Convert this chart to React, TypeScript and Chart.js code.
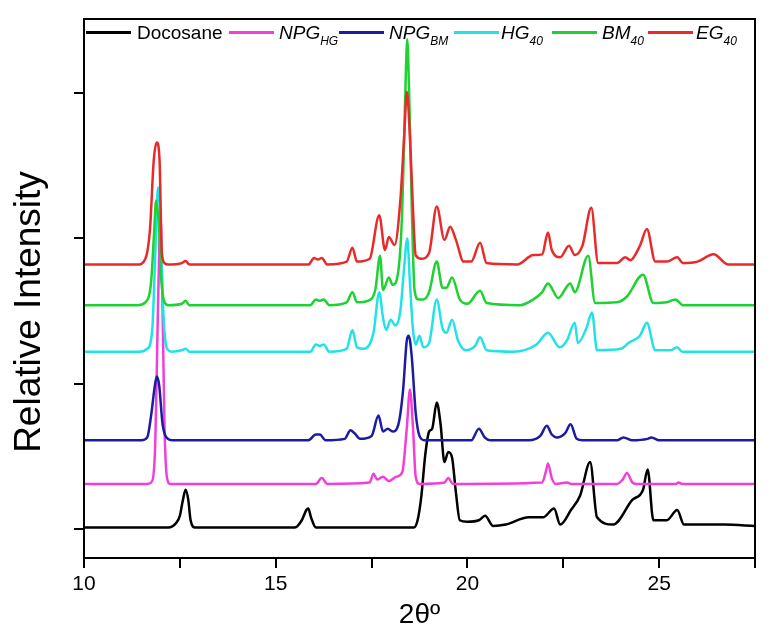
import React, { useEffect, useRef } from 'react';
import { Chart, registerables } from 'chart.js';

Chart.register(...registerables);

// ---------- data (2θ in degrees, relative intensity with vertical offsets) ----------
const seriesNames = ['Docosane', 'NPG_HG', 'NPG_BM', 'HG40', 'BM40', 'EG40'];

const docosaneX = [10.0, 12.2, 12.4, 12.5, 12.58, 12.65, 12.72, 12.78, 12.9, 15.5, 15.68, 15.8, 15.85, 15.92, 16.05, 18.6, 18.7, 18.8, 18.9, 19.0, 19.08, 19.2, 19.3, 19.4, 19.5, 19.6, 19.7, 19.8, 20.0, 20.3, 20.46, 20.67, 21.0, 21.6, 21.97, 22.26, 22.42, 22.7, 22.94, 23.2, 23.38, 23.8, 24.3, 24.58, 24.7, 24.85, 25.2, 25.47, 25.65, 26.7, 27.5];
const docosaneY = [0.01, 0.01, 0.04, 0.09, 0.2, 0.27, 0.2, 0.06, 0.01, 0.01, 0.06, 0.13, 0.14, 0.08, 0.01, 0.01, 0.06, 0.23, 0.51, 0.67, 0.69, 0.87, 0.72, 0.46, 0.53, 0.49, 0.25, 0.06, 0.05, 0.06, 0.09, 0.02, 0.03, 0.08, 0.08, 0.14, 0.03, 0.13, 0.23, 0.46, 0.08, 0.03, 0.2, 0.27, 0.41, 0.06, 0.06, 0.13, 0.03, 0.03, 0.02];

const npgHgX = [10.0, 11.65, 11.78, 11.86, 11.92, 11.97, 12.0, 12.05, 12.1, 12.16, 12.25, 16.05, 16.2, 16.35, 17.45, 17.55, 17.65, 17.8, 17.95, 18.15, 18.3, 18.42, 18.5, 18.58, 18.65, 18.75, 19.4, 19.5, 19.62, 21.95, 22.05, 22.1, 22.2, 22.3, 22.6, 22.7, 23.9, 24.05, 24.16, 24.3, 24.4, 25.45, 25.5, 25.6, 27.5];
const npgHgY = [0.31, 0.31, 0.33, 0.6, 1.4, 2.0, 2.12, 1.5, 0.7, 0.36, 0.31, 0.31, 0.35, 0.31, 0.32, 0.38, 0.34, 0.36, 0.33, 0.36, 0.39, 0.7, 0.96, 0.7, 0.36, 0.31, 0.32, 0.35, 0.31, 0.32, 0.4, 0.45, 0.35, 0.31, 0.32, 0.31, 0.31, 0.34, 0.385, 0.32, 0.31, 0.31, 0.32, 0.31, 0.31];

const npgBmX = [10.0, 11.5, 11.65, 11.75, 11.85, 11.9, 11.96, 12.05, 12.15, 12.3, 15.85, 16.05, 16.15, 16.3, 16.8, 16.95, 17.05, 17.2, 17.5, 17.68, 17.8, 17.92, 18.05, 18.2, 18.32, 18.42, 18.47, 18.55, 18.65, 18.75, 18.9, 20.1, 20.3, 20.45, 20.6, 21.6, 21.9, 22.07, 22.2, 22.33, 22.55, 22.69, 22.85, 23.0, 23.9, 24.07, 24.3, 24.7, 24.8, 25.0, 27.5];
const npgBmY = [0.61, 0.61, 0.63, 0.78, 0.99, 1.05, 0.99, 0.72, 0.63, 0.61, 0.61, 0.65, 0.65, 0.61, 0.62, 0.68, 0.66, 0.62, 0.64, 0.78, 0.67, 0.69, 0.67, 0.72, 0.95, 1.3, 1.33, 1.18, 0.8, 0.64, 0.61, 0.61, 0.69, 0.63, 0.61, 0.61, 0.64, 0.71, 0.65, 0.63, 0.66, 0.72, 0.62, 0.61, 0.61, 0.63, 0.61, 0.62, 0.63, 0.61, 0.61];

const hg40X = [10.0, 11.45, 11.65, 11.78, 11.86, 11.93, 11.98, 12.05, 12.12, 12.2, 12.3, 12.55, 12.65, 12.75, 15.9, 16.05, 16.15, 16.25, 16.4, 16.85, 17.0, 17.12, 17.3, 17.55, 17.7, 17.8, 17.88, 18.0, 18.12, 18.25, 18.35, 18.43, 18.5, 18.58, 18.65, 18.75, 18.85, 19.0, 19.2, 19.35, 19.45, 19.6, 19.75, 19.95, 20.2, 20.33, 20.5, 21.2, 21.8, 22.1, 22.41, 22.6, 22.8, 22.88, 23.1, 23.25, 23.38, 24.0, 24.07, 24.2, 24.5, 24.68, 24.9, 25.3, 25.47, 25.6, 27.5];
const hg40Y = [1.22, 1.22, 1.24, 1.37, 1.9, 2.35, 2.2, 1.6, 1.3, 1.23, 1.22, 1.23, 1.24, 1.22, 1.22, 1.27, 1.26, 1.27, 1.22, 1.24, 1.37, 1.25, 1.24, 1.35, 1.63, 1.45, 1.37, 1.44, 1.4, 1.5, 1.8, 2.0, 1.7, 1.37, 1.27, 1.33, 1.25, 1.28, 1.58, 1.38, 1.35, 1.44, 1.3, 1.23, 1.26, 1.32, 1.23, 1.22, 1.27, 1.35, 1.25, 1.3, 1.42, 1.28, 1.38, 1.49, 1.23, 1.24, 1.25, 1.28, 1.33, 1.42, 1.23, 1.23, 1.25, 1.22, 1.22];

const bm40X = [10.0, 11.4, 11.6, 11.75, 11.83, 11.88, 11.95, 12.02, 12.1, 12.2, 12.55, 12.65, 12.75, 15.9, 16.05, 16.15, 16.25, 16.4, 16.85, 17.0, 17.12, 17.4, 17.6, 17.72, 17.8, 17.95, 18.05, 18.2, 18.3, 18.38, 18.43, 18.48, 18.55, 18.62, 18.72, 18.85, 19.0, 19.2, 19.35, 19.45, 19.6, 19.8, 20.0, 20.33, 20.5, 21.37, 21.72, 21.95, 22.1, 22.37, 22.68, 22.8, 23.15, 23.33, 23.9, 24.16, 24.58, 24.85, 25.2, 25.42, 25.63, 27.5];
const bm40Y = [1.54, 1.54, 1.56, 1.7, 2.05, 2.26, 2.1, 1.7, 1.56, 1.54, 1.55, 1.57, 1.54, 1.54, 1.58, 1.57, 1.58, 1.54, 1.56, 1.63, 1.56, 1.57, 1.65, 1.88, 1.645, 1.73, 1.68, 1.78, 2.2, 3.0, 3.37, 3.0, 2.2, 1.645, 1.58, 1.58, 1.63, 1.84, 1.66, 1.66, 1.73, 1.58, 1.55, 1.64, 1.555, 1.54, 1.58, 1.63, 1.69, 1.59, 1.69, 1.63, 1.88, 1.555, 1.56, 1.6, 1.75, 1.555, 1.56, 1.58, 1.54, 1.54];

const eg40X = [10.0, 11.4, 11.6, 11.72, 11.82, 11.9, 11.97, 12.03, 12.1, 12.2, 12.55, 12.65, 12.75, 15.85, 16.0, 16.1, 16.2, 16.35, 16.85, 17.0, 17.12, 17.45, 17.7, 17.85, 17.95, 18.1, 18.25, 18.35, 18.42, 18.5, 18.58, 18.65, 18.8, 19.0, 19.2, 19.4, 19.55, 19.7, 19.9, 20.1, 20.33, 20.5, 21.3, 21.72, 21.95, 22.1, 22.2, 22.42, 22.65, 22.8, 23.0, 23.23, 23.41, 23.9, 24.12, 24.25, 24.5, 24.68, 24.9, 25.2, 25.47, 25.62, 26.0, 26.42, 26.8, 27.5];
const eg40Y = [1.82, 1.82, 1.86, 2.06, 2.54, 2.66, 2.54, 1.9, 1.83, 1.82, 1.83, 1.845, 1.82, 1.82, 1.865, 1.855, 1.865, 1.82, 1.84, 1.935, 1.84, 1.86, 2.16, 1.92, 2.01, 1.955, 2.26, 2.7, 3.01, 2.7, 2.2, 1.885, 1.86, 1.9, 2.22, 1.99, 2.08, 1.99, 1.84, 1.84, 1.97, 1.83, 1.82, 1.885, 1.89, 2.04, 1.92, 1.87, 1.95, 1.885, 1.95, 2.21, 1.83, 1.83, 1.87, 1.85, 1.95, 2.065, 1.84, 1.84, 1.87, 1.83, 1.84, 1.89, 1.82, 1.82];

const xTicks = [10, 12.5, 15, 17.5, 20, 22.5, 25, 27.5];
const xTickLabels = ['10', '', '15', '', '20', '', '25', ''];
const yTicks = [0, 1, 2, 3];
const xRange = [10, 27.5];
const yRange = [-0.2, 3.51];
const xTitle = '2θº';
const yTitle = 'Relative Intensity';

// ---------- styling ----------
const colors = ['#000000', '#f23fd8', '#1c1ca0', '#22e2e8', '#1ed232', '#e82a2a'];
const FONT = 'Arial, "Liberation Sans", Helvetica, sans-serif';

const seriesX = [docosaneX, npgHgX, npgBmX, hg40X, bm40X, eg40X];
const seriesY = [docosaneY, npgHgY, npgBmY, hg40Y, bm40Y, eg40Y];

const framePlugin = {
  id: 'frame',
  afterDatasetsDraw(chart: any) {
    const { ctx, chartArea: a } = chart;
    ctx.save();
    ctx.strokeStyle = '#000';
    ctx.lineWidth = 2;
    ctx.strokeRect(a.left, a.top, a.right - a.left, a.bottom - a.top);
    ctx.restore();
  },
};

// y-axis title, placed a little below the plot centre as in the reference
const yTitlePlugin = {
  id: 'yTitle',
  afterDraw(chart: any) {
    const { ctx } = chart;
    ctx.save();
    ctx.translate(30, 312);
    ctx.rotate(-Math.PI / 2);
    ctx.fillStyle = '#000';
    ctx.font = `37px ${FONT}`;
    ctx.textAlign = 'center';
    ctx.textBaseline = 'middle';
    ctx.fillText(yTitle, 0, 0);
    ctx.restore();
  },
};

const legendItems = [
  { line: 86, text: 137, main: 'Docosane', sub: '', italic: false },
  { line: 229, text: 279, main: 'NPG', sub: 'HG', italic: true },
  { line: 339, text: 389, main: 'NPG', sub: 'BM', italic: true },
  { line: 454, text: 501, main: 'HG', sub: '40', italic: true },
  { line: 552, text: 602, main: 'BM', sub: '40', italic: true },
  { line: 648, text: 696, main: 'EG', sub: '40', italic: true },
];

export default function App() {
  const ref = useRef<HTMLCanvasElement | null>(null);

  useEffect(() => {
    if (!ref.current) return;
    const datasets = seriesNames.map((name, i) => ({
      label: name,
      data: seriesX[i].map((x, j) => ({ x, y: seriesY[i][j] })),
      borderColor: colors[i],
      backgroundColor: colors[i],
      borderWidth: 2.5,
      pointRadius: 0,
      showLine: true,
      fill: false,
      cubicInterpolationMode: 'monotone' as const,
      order: seriesNames.length - 1 - i,
    }));

    const chart = new Chart(ref.current, {
      type: 'line',
      data: { datasets },
      plugins: [framePlugin, yTitlePlugin],
      options: {
        animation: false,
        responsive: false,
        maintainAspectRatio: false,
        layout: { padding: { left: 0, right: 17, top: 19, bottom: 0 } },
        plugins: { legend: { display: false }, tooltip: { enabled: false } },
        scales: {
          x: {
            type: 'linear',
            min: xRange[0],
            max: xRange[1],
            afterBuildTicks: (ax: any) => {
              ax.ticks = xTicks.map((v) => ({ value: v }));
            },
            afterFit: (s: any) => {
              s.height = 83;
            },
            border: { display: true, color: '#000', width: 2 },
            grid: { drawOnChartArea: false, drawTicks: true, tickLength: 10, color: '#000', lineWidth: 2 },
            ticks: {
              autoSkip: false,
              maxRotation: 0,
              color: '#000',
              padding: 4,
              font: { family: FONT, size: 21 },
              callback: (v: any) => {
                const k = xTicks.indexOf(Number(v));
                return k >= 0 ? xTickLabels[k] : '';
              },
            },
            title: {
              display: true,
              text: xTitle,
              color: '#000',
              font: { family: FONT, size: 28 },
              padding: { top: 0, bottom: 9 },
            },
          },
          y: {
            type: 'linear',
            min: yRange[0],
            max: yRange[1],
            afterBuildTicks: (ax: any) => {
              ax.ticks = yTicks.map((v) => ({ value: v }));
            },
            afterFit: (s: any) => {
              s.width = 84;
            },
            border: { display: true, color: '#000', width: 2 },
            grid: { drawOnChartArea: false, drawTicks: true, tickLength: 10, color: '#000', lineWidth: 2 },
            ticks: { display: false },
            title: { display: false },
          },
        },
      },
    });
    return () => chart.destroy();
  }, []);

  return (
    <div>
      <canvas
        ref={ref}
        width={772}
        height={641}
        style={{ position: 'fixed', left: 0, top: 0, width: 772, height: 641 }}
      />
      <div style={{ position: 'fixed', left: 0, top: 0, width: 772, height: 60, pointerEvents: 'none', fontFamily: FONT, color: '#000' }}>
        {legendItems.map((it, i) => (
          <React.Fragment key={i}>
            <span style={{ position: 'absolute', left: it.line, top: 31, width: 45, height: 3, background: colors[i] }} />
            <span style={{ position: 'absolute', left: it.text, top: 21, fontSize: 19, lineHeight: '24px', fontStyle: it.italic ? 'italic' : 'normal', whiteSpace: 'nowrap' }}>
              {it.main}
              {it.sub ? <sub style={{ fontSize: 12, verticalAlign: '-6px', lineHeight: 0 }}>{it.sub}</sub> : null}
            </span>
          </React.Fragment>
        ))}
      </div>
    </div>
  );
}
